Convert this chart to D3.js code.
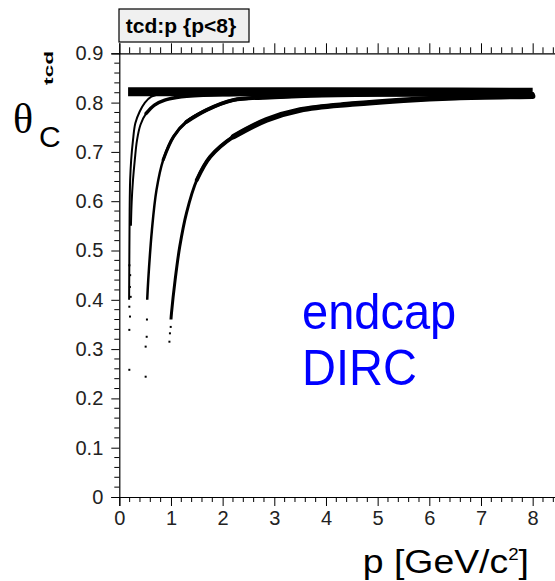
<!DOCTYPE html>
<html>
<head>
<meta charset="utf-8">
<script src="https://cdn.jsdelivr.net/npm/d3@7"></script>
<style>
  body { margin: 0; background: #fff; }
  svg { display: block; font-family: "Liberation Sans", Arial, sans-serif; }
</style>
</head>
<body>
<div id="chart"></div>
<script>
// Bands: [p, theta_c]
const electron = [[0.17, 0.822], [1.0, 0.822], [4.0, 0.822], [8.0, 0.821]];
const muon = [[0.19, 0.40], [0.195, 0.50], [0.20, 0.58], [0.21, 0.643], [0.23, 0.684], [0.265, 0.724],
  [0.31, 0.758], [0.395, 0.782], [0.49, 0.799], [0.62, 0.812], [0.9, 0.819], [1.5, 0.821]];
const pion = [[0.225, 0.55], [0.24, 0.60], [0.265, 0.643], [0.30, 0.684], [0.343, 0.724], [0.41, 0.755],
  [0.52, 0.778], [0.68, 0.795], [0.88, 0.805], [1.2, 0.812], [2.0, 0.816], [4.0, 0.818], [8.0, 0.818]];
const kaon = [[0.54, 0.40], [0.56, 0.44], [0.63, 0.54], [0.72, 0.623], [0.85, 0.684], [1.05, 0.731],
  [1.30, 0.761], [1.69, 0.785], [2.2, 0.805], [3.0, 0.811], [3.7, 0.814], [5.0, 0.816], [8.0, 0.817]];
const proton = [[1.0, 0.36], [1.01, 0.373], [1.08, 0.44], [1.17, 0.508], [1.30, 0.576], [1.50, 0.643],
  [1.76, 0.69], [2.21, 0.731], [2.85, 0.765], [3.5, 0.785], [4.5, 0.797], [5.5, 0.805], [6.5, 0.81], [8.0, 0.813]];
// lone points under the bands
const strays = [[0.194, 0.258], [0.194, 0.339], [0.207, 0.366], [0.194, 0.386], [0.22, 0.406], [0.205, 0.426],
  [0.21, 0.45], [0.196, 0.47], [0.51, 0.244], [0.51, 0.305], [0.53, 0.325], [0.535, 0.36],
  [0.97, 0.315], [0.98, 0.332], [0.995, 0.345]];

const xTicks = [0, 1, 2, 3, 4, 5, 6, 7, 8];
const yTicks = [0, 0.1, 0.2, 0.3, 0.4, 0.5, 0.6, 0.7, 0.8, 0.9];

const width = 555, height = 581;
const left = 119.3, bottom = 497, topY = 53.3;

const svg = d3.select("#chart").append("svg")
    .attr("width", width)
    .attr("height", height);

const x = d3.scaleLinear().domain([0, 8.5]).range([left, left + 8.5 * 51.67]);
const y = d3.scaleLinear().domain([0, 0.9]).range([bottom, topY]);

// bands: thin along the steep rise, wider where they flatten out
const line = d3.line().x(d => x(d[0])).y(d => y(d[1])).curve(d3.curveMonotoneX);
const lineV = d3.line().x(d => x(d[0])).y(d => y(d[1])).curve(d3.curveCatmullRom);
const bands = [
  { data: electron, w: 9, gen: line, cap: "butt" },
  { data: proton, w: 3, gen: lineV, cap: "butt" },
  { data: proton.filter(d => d[1] >= 0.643), w: 4, gen: lineV, cap: "round" },
  { data: proton.filter(d => d[1] >= 0.731), w: 5.5, gen: lineV, cap: "round" },
  { data: kaon, w: 2.5, gen: lineV, cap: "butt" },
  { data: kaon.filter(d => d[1] >= 0.684), w: 3.2, gen: lineV, cap: "round" },
  { data: kaon.filter(d => d[1] >= 0.761), w: 4, gen: lineV, cap: "round" },
  { data: pion, w: 2, gen: lineV, cap: "butt" },
  { data: pion.filter(d => d[1] >= 0.778), w: 3.5, gen: lineV, cap: "round" },
  { data: muon, w: 2, gen: lineV, cap: "butt" }
];
svg.append("g").selectAll("path")
  .data(bands)
  .join("path")
    .attr("d", d => d.gen(d.data))
    .attr("fill", "none")
    .attr("stroke", "#000")
    .attr("stroke-width", d => d.w)
    .attr("stroke-linecap", d => d.cap);

svg.append("g").selectAll("rect")
  .data(strays)
  .join("rect")
    .attr("x", d => x(d[0]) - 1)
    .attr("y", d => y(d[1]) - 1)
    .attr("width", 2)
    .attr("height", 2)
    .attr("fill", "#000");

// axes
const xMinor = d3.range(0, 8.6, 0.2).filter(v => Math.abs(v - Math.round(v)) > 0.01);
const yMinor = d3.range(0, 0.9, 0.02).filter(v => Math.abs(v * 10 - Math.round(v * 10)) > 0.01);

const xAxis = d3.axisBottom(x).tickValues(xTicks).tickFormat(d3.format("d")).tickSize(9).tickPadding(5);
const gx = svg.append("g").attr("transform", `translate(0,${bottom})`).call(xAxis);
gx.append("g").selectAll("line").data(xMinor).join("line")
    .attr("x1", d => x(d)).attr("x2", d => x(d)).attr("y1", 0).attr("y2", 5).attr("stroke", "#000");

const xTop = d3.axisTop(x).tickValues(xTicks).tickFormat("").tickSize(10);
const gt = svg.append("g").attr("transform", `translate(0,${topY})`).call(xTop);
gt.append("g").selectAll("line").data(xMinor).join("line")
    .attr("x1", d => x(d)).attr("x2", d => x(d)).attr("y1", 0).attr("y2", -6).attr("stroke", "#000");

const yAxis = d3.axisLeft(y).tickValues(yTicks).tickFormat(d => d === 0 ? "0" : d3.format(".1f")(d)).tickSize(8).tickPadding(8);
const gy = svg.append("g").attr("transform", `translate(${left},0)`).call(yAxis);
gy.append("g").selectAll("line").data(yMinor).join("line")
    .attr("x1", 0).attr("x2", -5).attr("y1", d => y(d)).attr("y2", d => y(d)).attr("stroke", "#000");

svg.selectAll(".domain").attr("stroke", "#000").attr("stroke-width", 1.2);
svg.selectAll(".tick line").attr("stroke", "#000");
svg.selectAll(".tick text").attr("font-size", 20).attr("fill", "#222")
    .attr("font-family", "Liberation Sans, Arial, sans-serif");

// title box
svg.append("rect").attr("x", 119).attr("y", 9).attr("width", 130).attr("height", 33)
    .attr("fill", "#f0f0f0").attr("stroke", "#000").attr("stroke-width", 1.2);
svg.append("text").attr("x", 181).attr("y", 33).attr("text-anchor", "middle")
    .attr("font-size", 21).attr("font-weight", "bold").text("tcd:p {p<8}");

// axis titles
svg.append("text").attr("transform", "translate(53,68) rotate(-90) scale(1.9,1)")
    .attr("text-anchor", "middle").attr("font-size", 12).attr("font-weight", "bold").text("tcd");

svg.append("text").attr("x", 13).attr("y", 133)
    .attr("font-family", "Liberation Serif, Times New Roman, serif").attr("font-size", 42).text("θ");
svg.append("text").attr("x", 39).attr("y", 147).attr("font-size", 30).text("C");

const xt = svg.append("text").attr("transform", "translate(529,573) scale(1.1,1)")
    .attr("text-anchor", "end").attr("font-size", 34);
xt.append("tspan").text("p [GeV/c");
xt.append("tspan").attr("font-size", 17).attr("dy", -13).text("2");
xt.append("tspan").attr("dy", 13).text("]");

// annotation
const note = svg.append("text").attr("fill", "#0000ff").attr("font-size", 47)
    .attr("transform", "translate(302,0) scale(1,1.08)");
note.append("tspan").attr("x", 0).attr("y", 329 / 1.08).text("endcap");
note.append("tspan").attr("x", 0).attr("y", 385 / 1.08).text("DIRC");
</script>
</body>
</html>
